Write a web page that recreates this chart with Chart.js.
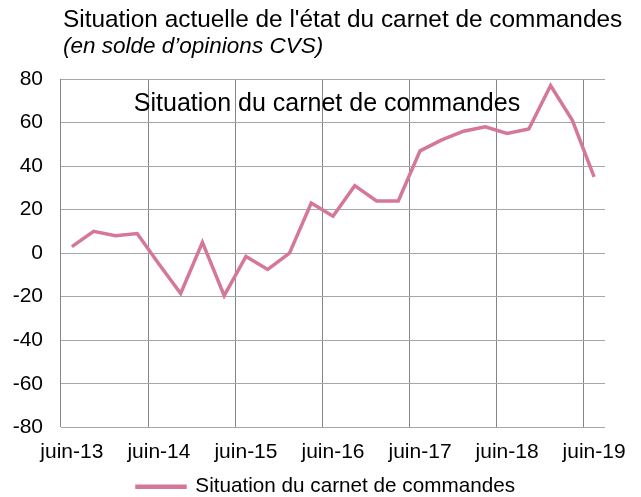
<!DOCTYPE html>
<html lang="fr">
<head>
<meta charset="utf-8">
<script src="https://cdn.jsdelivr.net/npm/chart.js@4"></script>
<style>
  html, body { margin: 0; padding: 0; background: #fff; }
  #wrap { position: relative; width: 641px; height: 497px; }
</style>
</head>
<body>
<div id="wrap"><canvas id="carnetChart" width="641" height="497"></canvas></div>
<script>
// Trimestres, de juin 2013 à juin 2019
const trimestres = [
  'juin-13', 'sept-13', 'déc-13', 'mars-14',
  'juin-14', 'sept-14', 'déc-14', 'mars-15',
  'juin-15', 'sept-15', 'déc-15', 'mars-16',
  'juin-16', 'sept-16', 'déc-16', 'mars-17',
  'juin-17', 'sept-17', 'déc-17', 'mars-18',
  'juin-18', 'sept-18', 'déc-18', 'mars-19',
  'juin-19'
];

// Solde d'opinions CVS
const soldeCarnet = [
  3, 10, 8, 9,
  -5, -18.5, 5, -19.5,
  -1.5, -7.5, 0, 23,
  17, 31, 24, 24,
  47, 52, 56, 58,
  55, 57, 77, 61,
  35
];

const yTicks = { min: -80, max: 80, step: 20 };

const titre = "Situation actuelle de l'état du carnet de commandes";
const sousTitre = '(en solde d\u2019opinions CVS)';
const titreInterne = 'Situation du carnet de commandes';
const nomSerie = 'Situation du carnet de commandes';

const ROSE = '#d5779b';
const FONT = "'Liberation Sans', Arial, sans-serif";

// Titres dessinés directement sur le canvas
const titresPlugin = {
  id: 'titres',
  afterLayout(chart) {
    // légende un peu décalée vers la droite
    chart.legend.left += 17;
    chart.legend.right += 17;
  },
  afterDraw(chart) {
    const c = chart.ctx;
    const area = chart.chartArea;
    c.save();
    c.fillStyle = '#000';
    c.textBaseline = 'alphabetic';
    c.textAlign = 'left';
    c.font = `24.4px ${FONT}`;
    c.fillText(titre, 63, 26.5);
    c.font = `italic 22.5px ${FONT}`;
    c.fillText(sousTitre, 63, 53);
    c.textAlign = 'center';
    c.font = `25px ${FONT}`;
    c.fillText(titreInterne, area.left + 266, area.top + 31.5);
    c.restore();
  }
};

const ctx = document.getElementById('carnetChart').getContext('2d');

new Chart(ctx, {
  type: 'line',
  data: {
    labels: trimestres,
    datasets: [{
      label: nomSerie,
      data: soldeCarnet,
      borderColor: ROSE,
      backgroundColor: ROSE,
      borderWidth: 3.5,
      pointRadius: 0,
      tension: 0,
      fill: false
    }]
  },
  options: {
    responsive: false,
    animation: false,
    layout: { padding: { top: 79, right: 36, bottom: -10, left: 13 } },
    plugins: {
      legend: {
        position: 'bottom',
        labels: {
          color: '#000',
          font: { family: FONT, size: 20.7 },
          boxWidth: 48,
          boxHeight: 1,
          padding: 0
        }
      },
      tooltip: { enabled: false }
    },
    scales: {
      x: {
        offset: true,
        border: { display: false },
        grid: {
          offset: true,
          drawTicks: false,
          lineWidth: 1,
          color: (c) => (c.index % 4 === 0 ? '#868686' : 'transparent')
        },
        ticks: {
          autoSkip: false,
          maxRotation: 0,
          minRotation: 0,
          padding: 14,
          color: '#000',
          font: { family: FONT, size: 21, lineHeight: 1 },
          callback: function (value, index) {
            return index % 4 === 0 ? this.getLabelForValue(value) : '';
          }
        },
        // les étiquettes débordent sur la marge, pas sur la zone de tracé
        afterFit(scale) {
          scale.paddingLeft = 0;
          scale.paddingRight = 0;
        }
      },
      y: {
        min: yTicks.min,
        max: yTicks.max,
        border: { display: false },
        grid: { drawTicks: false, color: '#a6a6a6', lineWidth: 1 },
        ticks: {
          stepSize: yTicks.step,
          padding: 18,
          color: '#000',
          font: { family: FONT, size: 21 }
        },
        // largeur fixe : étiquettes + espace de 18 px
        afterFit(scale) {
          scale.width = 48;
        }
      }
    }
  },
  plugins: [titresPlugin]
});
</script>
</body>
</html>
